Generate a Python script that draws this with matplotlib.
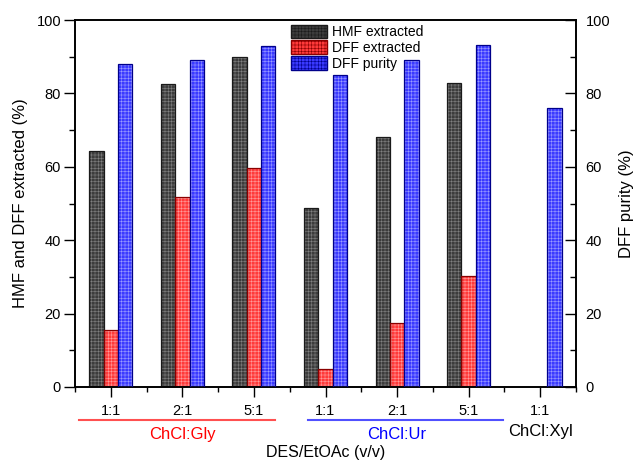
import matplotlib
matplotlib.use("Agg")
import matplotlib.pyplot as plt
import numpy as np
from matplotlib.patches import Patch
from matplotlib.ticker import MultipleLocator

plt.rcParams['font.family'] = ['Liberation Sans', 'DejaVu Sans']
plt.rcParams['hatch.linewidth'] = 0.4

ratios = ['1:1', '2:1', '5:1', '1:1', '2:1', '5:1', '1:1']
hmf_extracted = [64.3, 82.5, 90.0, 48.7, 68.0, 82.7, np.nan]
dff_extracted = [15.5, 51.7, 59.6, 4.8, 17.5, 30.2, np.nan]
dff_purity = [88.0, 89.0, 93.0, 85.0, 89.0, 93.1, 75.9]
groups = ['ChCl:Gly', 'ChCl:Ur', 'ChCl:Xyl']
group_colors = ['red', 'blue', 'black']

x = np.arange(1, len(ratios) + 1)
w = 0.2

fig = plt.figure(figsize=(6.33, 4.61), dpi=100)
ax = fig.add_axes([75 / 633, 1 - 387 / 461, 501 / 633, 367 / 461])
ax2 = ax.twinx()


def hatched_bars(axis, xs, vals, face, hatchc, edge):
    axis.bar(xs, vals, w, color=face, edgecolor=hatchc, hatch='+++++', linewidth=0, zorder=2)
    axis.bar(xs, vals, w, fill=False, edgecolor=edge, linewidth=0.9, zorder=3)


hatched_bars(ax, x - w, hmf_extracted, '#3c3c3c', '#808080', '#1a1a1a')
hatched_bars(ax, x, dff_extracted, '#ff3a3a', '#ff9a9a', '#8a0000')
hatched_bars(ax2, x + w, dff_purity, '#3a3aff', '#9a9aff', '#00008a')

ax.set_xlim(0.5, 7.5)
ax.set_ylim(0, 100)
ax2.set_ylim(0, 100)
ax.set_xticks(x)
ax.set_xticklabels(ratios, fontsize=10)
ax.xaxis.set_minor_locator(MultipleLocator(0.5))
for a in (ax, ax2):
    a.yaxis.set_major_locator(MultipleLocator(20))
    a.yaxis.set_minor_locator(MultipleLocator(10))
    a.tick_params(axis='both', which='major', direction='out', length=8, width=1, labelsize=10.5)
    a.tick_params(axis='both', which='minor', direction='out', length=4, width=1)
    for s in a.spines.values():
        s.set_linewidth(1.2)
ax2.tick_params(axis='y', which='both', direction='in', pad=7)
ax.tick_params(axis='y', which='major', pad=2)
ax.tick_params(axis='x', which='major', length=7, pad=5)
ax.tick_params(axis='x', which='minor', length=3.5)

ax.set_ylabel('HMF and DFF extracted (%)', fontsize=12, labelpad=6)
ax2.set_ylabel('DFF purity (%)', fontsize=12, labelpad=6)

# group underlines and names
trans = ax.get_xaxis_transform()
ax.plot([x[0] - 0.45, x[2] + 0.3], [-0.091, -0.091], color='#ff5050', lw=1.5,
        transform=trans, clip_on=False)
ax.plot([x[3] - 0.25, x[5] + 0.48], [-0.091, -0.091], color='#5050ff', lw=1.5,
        transform=trans, clip_on=False)
ax.text(x[1], -0.13, groups[0], color=group_colors[0], fontsize=12, ha='center', va='center', transform=trans)
ax.text(x[4], -0.13, groups[1], color=group_colors[1], fontsize=12, ha='center', va='center', transform=trans)
ax.text(x[6], -0.12, groups[2], color=group_colors[2], fontsize=12, ha='center', va='center', transform=trans)
ax.text(4, -0.178, 'DES/EtOAc (v/v)', fontsize=11.5, ha='center', va='center', transform=trans)

handles = [Patch(facecolor='#3c3c3c', edgecolor='#1a1a1a', hatch='+++++', label='HMF extracted'),
           Patch(facecolor='#ff3a3a', edgecolor='#8a0000', hatch='+++++', label='DFF extracted'),
           Patch(facecolor='#3a3aff', edgecolor='#00008a', hatch='+++++', label='DFF purity')]
ax2.legend(handles=handles, loc='upper left', bbox_to_anchor=(0.415, 1.01), frameon=False,
           fontsize=10, handlelength=2.6, handleheight=1.1, handletextpad=0.3,
           labelspacing=0.1, borderaxespad=0.2)

fig.savefig('out.png', dpi=100)
